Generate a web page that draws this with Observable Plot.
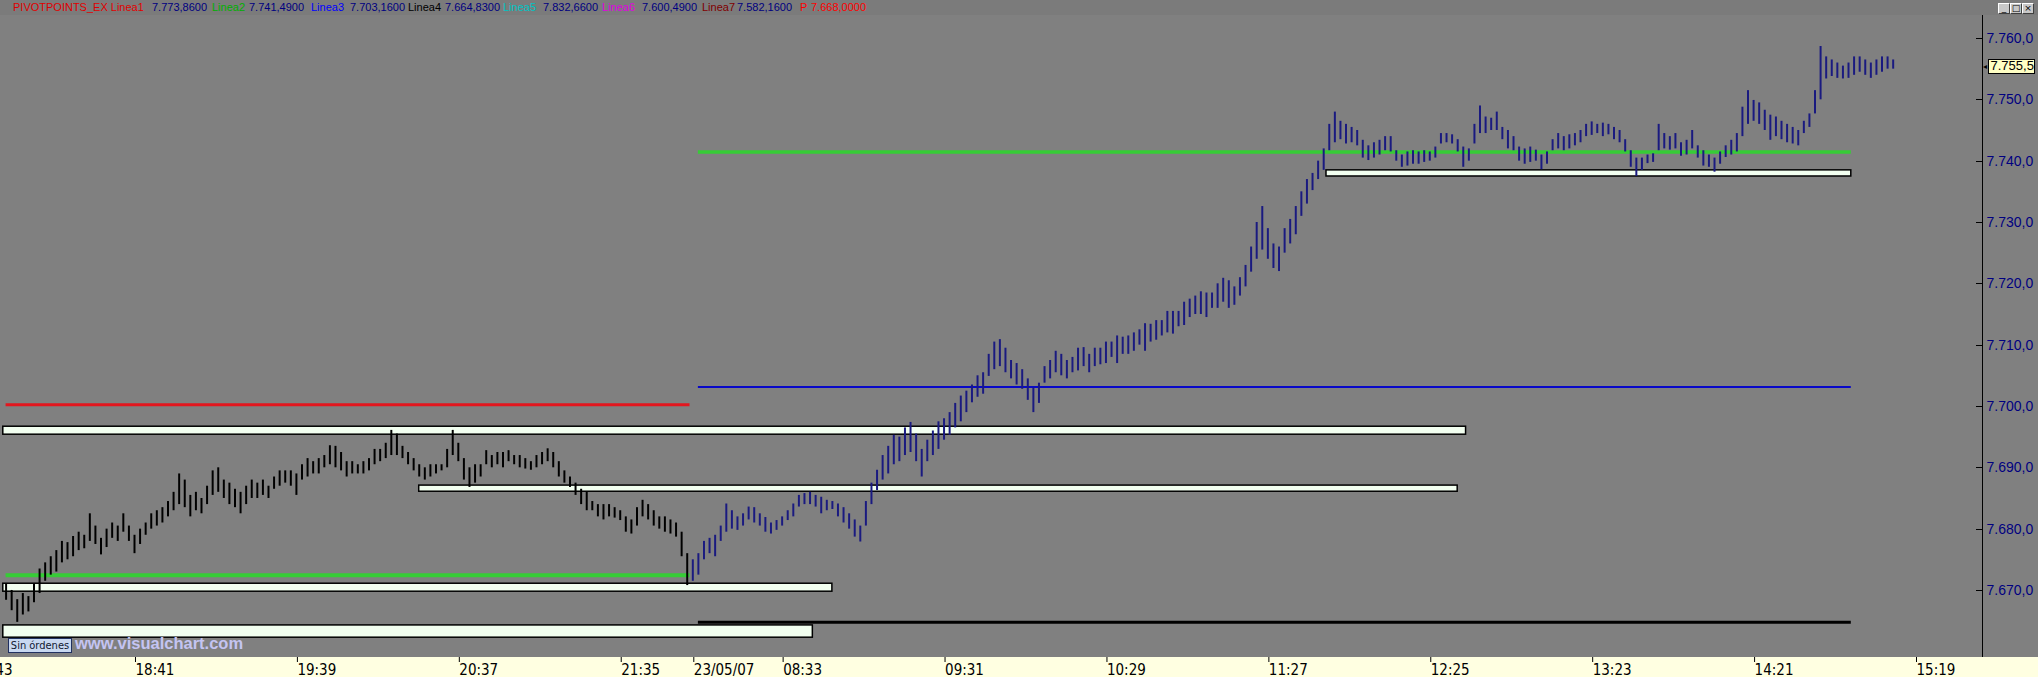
<!DOCTYPE html>
<html><head><meta charset="utf-8">
<script src="https://cdn.jsdelivr.net/npm/d3@7"></script>
<script src="https://cdn.jsdelivr.net/npm/@observablehq/plot@0.6"></script>
<style>
html,body{margin:0;padding:0;background:#808080;width:2038px;height:677px;overflow:hidden;position:relative;font-family:"Liberation Sans",Arial,sans-serif}
#hdr{position:absolute;left:0;top:0;width:2038px;height:15px;background:#7b7b7b;white-space:nowrap}
#hdr span{position:absolute;top:1px;font-size:11px;line-height:13px}
#chart{position:absolute;left:0;top:15px}
.btn{position:absolute;top:3px;width:10px;height:9px;background:#c8c8c8;border:1px solid;border-color:#fff #404040 #404040 #fff;font-size:9px;line-height:9px;text-align:center;color:#000;font-family:"DejaVu Sans",sans-serif}
#sin{position:absolute;left:8px;top:638px;width:62px;height:13px;background:#c8d8f0;border:1px solid #203060;font-family:"Liberation Sans Narrow","DejaVu Sans Condensed",sans-serif;font-size:11px;line-height:13px;text-align:center;color:#101830}
#wm{position:absolute;left:75px;top:634px;font-family:"Liberation Sans",Arial,sans-serif;font-weight:bold;font-size:16.5px;color:#c4c4f2}
</style></head><body>
<div id="hdr"></div>
<div id="chart"></div>
<div class="btn" style="left:1998px">_</div><div class="btn" style="left:2010px">□</div><div class="btn" style="left:2022px">×</div>
<div id="sin">Sin órdenes</div>
<div id="wm">www.visualchart.com</div>
<script>
// ---------------- DATA ----------------
// Header (indicator PIVOTPOINTS_EX values)
const headerNames  = ["PIVOTPOINTS_EX Linea1", "Linea2", "Linea3", "Linea4", "Linea5", "Linea6", "Linea7", "P"];
const headerValues = [7773.86, 7741.49, 7703.16, 7664.83, 7832.66, 7600.49, 7582.16, 7668.00];

// 2-minute bars. Session 1 = 22/05/07 from 17:55, session 2 = 23/05/07 from 08:01
const day1Start = "17:55";
const day1Low = [7668.4,7666.7,7664.8,7666.0,7666.5,7668.0,7669.5,7671.5,7672.5,7673.0,
7674.5,7675.0,7675.5,7676.5,7676.8,7678.0,7677.5,7675.8,7677.0,7678.5,
7678.0,7679.5,7678.0,7676.0,7677.5,7679.0,7680.0,7680.5,7681.0,7682.0,
7683.0,7684.0,7683.5,7682.0,7683.0,7682.5,7684.0,7685.5,7686.0,7685.0,
7684.0,7683.5,7682.5,7684.0,7685.0,7685.0,7685.5,7685.0,7686.5,7687.0,
7687.5,7687.0,7685.5,7688.0,7688.5,7689.0,7689.0,7690.0,7690.5,7690.0,
7689.5,7688.5,7689.0,7689.0,7689.0,7689.5,7690.5,7691.0,7691.5,7692.0,
7692.0,7691.5,7690.5,7689.5,7688.5,7688.0,7688.5,7689.0,7689.5,7690.0,
7692.0,7691.0,7688.0,7686.8,7687.5,7688.5,7690.5,7690.0,7690.5,7690.0,
7691.0,7690.5,7690.0,7689.8,7689.6,7690.0,7690.5,7691.0,7690.0,7688.5,
7687.5,7686.8,7685.5,7684.0,7683.0,7683.0,7682.0,7681.5,7682.0,7681.8,
7681.4,7679.5,7679.2,7680.5,7682.0,7681.5,7680.5,7680.0,7679.5,7679.2,
7678.7,7675.5,7670.8];
const day1High = [7671.1,7670.0,7668.5,7669.5,7669.0,7671.0,7673.5,7674.5,7675.5,7676.5,
7678.0,7677.8,7678.8,7679.5,7679.0,7682.5,7680.5,7678.5,7680.0,7681.0,
7680.5,7682.5,7680.5,7679.0,7680.0,7681.0,7682.5,7683.0,7683.5,7684.5,
7686.0,7689.0,7688.0,7685.5,7686.0,7685.0,7687.0,7689.5,7690.0,7688.0,
7687.5,7686.5,7686.0,7687.0,7688.0,7687.5,7688.0,7687.0,7688.5,7689.5,
7689.5,7689.5,7689.0,7690.5,7691.5,7691.0,7691.5,7692.0,7693.6,7693.5,
7692.5,7691.0,7691.0,7690.5,7691.0,7691.5,7693.0,7693.0,7694.0,7696.1,
7695.5,7693.5,7692.5,7691.5,7690.5,7690.0,7690.5,7690.5,7690.5,7693.0,
7696.1,7694.0,7691.5,7690.0,7690.5,7690.5,7692.8,7692.0,7692.5,7692.5,
7692.8,7692.0,7692.0,7691.5,7691.0,7692.0,7692.5,7693.1,7692.5,7691.0,
7689.5,7688.5,7687.5,7686.5,7686.0,7684.5,7684.0,7684.0,7684.0,7683.5,
7683.0,7682.0,7681.5,7683.5,7684.7,7684.0,7683.0,7682.0,7682.0,7681.5,
7681.0,7679.5,7676.0];
const day2Start = "08:01";
const day2Low = [7671.5,7672.5,7675.0,7676.0,7675.5,7678.0,7679.5,7680.0,7679.8,7680.5,
7681.5,7681.0,7680.5,7679.5,7679.2,7679.8,7680.5,7681.4,7682.0,7683.6,
7684.0,7684.0,7683.6,7682.5,7683.0,7683.2,7682.0,7681.0,7680.0,7678.7,
7677.9,7680.5,7684.0,7686.3,7688.0,7689.0,7690.5,7691.0,7692.0,7692.5,
7691.0,7688.5,7691.0,7692.0,7693.0,7694.5,7695.3,7696.5,7697.5,7699.0,
7700.6,7701.5,7702.0,7704.9,7706.0,7706.5,7705.5,7704.5,7703.5,7702.8,
7701.0,7699.0,7700.5,7703.8,7704.5,7705.5,7705.0,7704.5,7705.5,7705.8,
7706.5,7705.5,7706.5,7706.8,7707.0,7708.0,7707.0,7708.5,7708.5,7709.0,
7710.0,7709.0,7710.5,7710.8,7711.5,7712.0,7711.8,7713.0,7713.2,7714.5,
7715.0,7715.0,7714.5,7716.0,7716.0,7717.0,7716.0,7716.5,7718.0,7719.5,
7721.9,7724.0,7725.5,7724.0,7722.5,7722.0,7725.0,7726.5,7728.0,7731.0,
7733.0,7735.2,7737.0,7738.5,7741.7,7743.0,7743.5,7742.8,7743.0,7742.5,
7740.5,7740.1,7740.5,7741.0,7741.7,7741.5,7740.0,7739.0,7739.2,7739.5,
7739.5,7739.8,7740.0,7740.5,7742.8,7743.0,7742.8,7741.5,7739.0,7740.0,
7742.8,7744.5,7744.5,7745.0,7745.0,7743.5,7742.0,7741.7,7740.0,7739.5,
7739.8,7740.0,7738.6,7739.5,7741.7,7742.0,7741.7,7742.0,7742.5,7743.0,
7744.0,7744.2,7744.5,7744.0,7744.3,7743.5,7743.0,7741.5,7739.0,7737.5,
7738.5,7739.6,7739.8,7741.7,7742.0,7741.8,7742.0,7740.8,7741.0,7742.0,
7740.5,7739.2,7739.0,7738.2,7739.5,7740.6,7741.0,7741.5,7744.0,7746.0,
7746.5,7746.0,7745.0,7743.4,7744.0,7743.5,7743.0,7742.8,7742.5,7744.5,
7745.5,7747.7,7750.0,7753.4,7753.8,7753.5,7753.4,7753.5,7754.0,7754.5,
7754.0,7753.5,7754.0,7754.5,7755.0,7755.0];
const day2High = [7675.0,7676.0,7678.0,7678.5,7679.0,7680.5,7684.1,7683.0,7682.0,7682.5,
7683.6,7683.5,7682.5,7681.9,7681.0,7681.4,7682.0,7683.0,7684.1,7685.5,
7685.8,7686.0,7685.5,7685.2,7684.7,7684.5,7684.1,7683.5,7682.5,7681.5,
7680.5,7684.5,7687.5,7689.6,7692.0,7693.5,7695.3,7695.0,7696.5,7697.4,
7695.5,7693.0,7694.5,7696.0,7697.5,7698.0,7699.0,7700.5,7701.7,7702.5,
7703.5,7705.0,7705.5,7708.5,7710.5,7710.9,7709.5,7707.5,7707.0,7706.0,
7704.5,7703.0,7703.8,7706.5,7707.5,7709.0,7708.5,7707.5,7708.0,7709.5,
7709.6,7708.5,7709.5,7709.5,7710.5,7710.5,7711.5,7711.3,7711.5,7712.0,
7712.5,7713.5,7713.4,7714.0,7714.0,7715.5,7715.5,7715.5,7717.0,7717.5,
7718.0,7718.7,7718.5,7718.5,7720.0,7720.9,7720.5,7719.5,7721.0,7723.0,
7726.0,7730.0,7732.6,7729.0,7726.5,7726.0,7729.0,7730.5,7732.6,7735.0,
7737.0,7738.0,7740.0,7742.0,7746.0,7748.0,7746.5,7746.0,7745.5,7745.0,
7743.4,7742.5,7743.0,7743.4,7744.0,7744.0,7741.7,7741.0,7741.5,7741.7,
7741.5,7741.7,7741.5,7742.3,7744.5,7744.5,7744.3,7743.5,7742.3,7742.0,
7746.0,7749.0,7747.2,7747.0,7748.0,7745.5,7745.0,7744.0,7742.3,7742.0,
7742.3,7741.8,7741.0,7741.5,7743.5,7744.5,7744.0,7744.3,7744.5,7745.0,
7746.0,7746.4,7746.0,7746.2,7746.0,7745.5,7745.0,7743.5,7741.7,7740.5,
7740.5,7741.0,7741.2,7746.0,7744.5,7744.0,7744.5,7743.0,7743.4,7745.0,
7742.5,7741.7,7741.0,7740.5,7741.5,7742.5,7743.4,7744.5,7748.8,7751.5,
7749.9,7749.5,7748.3,7747.5,7747.2,7746.5,7746.0,7745.5,7745.0,7746.5,
7747.7,7751.5,7758.7,7757.0,7756.5,7756.0,7755.5,7756.0,7757.0,7757.0,
7756.5,7756.0,7756.5,7757.0,7757.0,7756.5];
const lastPrice = 7755.5;

// Pivot levels drawn per session
const levelNames = ["R (22/05)", "S (22/05)", "Linea2", "Linea3", "Linea4"];
const levelValues = [7700.3, 7672.5, 7741.49, 7703.16, 7664.83];
const levelFrom = ["1 17:55", "1 17:55", "2 08:03", "2 08:03", "2 08:03"];
const levelTo   = ["1 22:00", "1 22:00", "2 14:56", "2 14:56", "2 14:56"];

// Order bands (white boxes)
const bandFrom = ["1 17:54", "1 20:23", "1 17:54", "1 17:54", "2 11:48"];
const bandTo   = ["2 12:38", "2 12:35", "2 08:51", "2 08:44", "2 14:56"];
const bandLow  = [7695.4, 7686.1, 7669.8, 7662.3, 7737.5];
const bandHigh = [7696.7, 7687.1, 7671.1, 7664.3, 7738.5];

// Axis ticks
const yTicks = [7670, 7680, 7690, 7700, 7710, 7720, 7730, 7740, 7750, 7760];
const xTickTimes  = ["1 17:43","1 18:41","1 19:39","1 20:37","1 21:35","2 08:01","2 08:33","2 09:31","2 10:29","2 11:27","2 12:25","2 13:23","2 14:21","2 15:19"];
const xTickLabels = ["17:43","18:41","19:39","20:37","21:35","23/05/07","08:33","09:31","10:29","11:27","12:25","13:23","14:21","15:19"];

// ---------------- STYLES ----------------
const levelStyle = [
  {stroke: "#e3161e", w: 3}, {stroke: "#36cc36", w: 4},
  {stroke: "#36cc36", w: 3.5}, {stroke: "#0808c8", w: 2}, {stroke: "#000000", w: 3}
];
const headerColors = ["#e00000", "#00b000", "#0000ff", "#000000", "#00c4c4", "#e000e0", "#800000", "#ff0000"];
const headerNameLeft  = [13, 212, 311, 408, 503, 602, 702, 800];
const headerValueLeft = [152, 249, 350, 445, 543, 642, 737, 811];

// ---------------- HELPERS ----------------
const toMin = s => { const [h, m] = s.split(":").map(Number); return h * 60 + m; };
// trading-minute index: 0 at 22/05 18:41; overnight gap removed (22:00 of day 1 == 08:00 of day 2)
const idx = (day, s) => day === 1 ? toMin(s) - toMin("18:41") : toMin(s) - toMin("08:00") + 199;
const idxOf = ds => { const [d, s] = ds.split(" "); return idx(+d, s); };

const loc = d3.formatLocale({decimal: ",", thousands: ".", grouping: [3], currency: ["", ""]});
const fmt1 = loc.format(",.1f"), fmt4 = loc.format(",.4f");

// header
const hdr = document.getElementById("hdr");
headerNames.forEach((n, i) => {
  const a = document.createElement("span"); a.textContent = n; a.style.color = headerColors[i];
  a.style.left = headerNameLeft[i] + "px"; hdr.appendChild(a);
  const b = document.createElement("span"); b.textContent = fmt4(headerValues[i]);
  b.style.color = i === headerNames.length - 1 ? headerColors[i] : "#000080";
  b.style.left = headerValueLeft[i] + "px"; hdr.appendChild(b);
});

// tables
const bars1 = day1Low.map((lo, i) => ({t: idx(1, day1Start) + 2 * i, lo, hi: day1High[i]}));
const bars2 = day2Low.map((lo, i) => ({t: idx(2, day2Start) + 2 * i, lo, hi: day2High[i]}));
const levels = levelNames.map((n, i) => ({n, v: levelValues[i], t1: idxOf(levelFrom[i]), t2: idxOf(levelTo[i]), ...levelStyle[i]}));
const bands = bandLow.map((lo, i) => ({lo, hi: bandHigh[i], t1: idxOf(bandFrom[i]), t2: idxOf(bandTo[i])}));
const xTickIdx = xTickTimes.map(idxOf);
const xLabel = new Map(xTickIdx.map((k, i) => [k, xTickLabels[i]]));

const xDomain = [-48, 662];
const yDomain = [7659.07, 7763.75];

const plot = Plot.plot({
  width: 2038, height: 662,
  marginTop: 0, marginRight: 56, marginBottom: 20, marginLeft: 0,
  x: {domain: xDomain},
  y: {domain: yDomain},
  style: {background: "#808080", fontFamily: "'Liberation Sans', Arial, sans-serif", overflow: "visible"},
  marks: [
    Plot.rect(bands, {x1: "t1", x2: "t2", y1: "lo", y2: "hi", fill: "#f2fff0", stroke: "#000", strokeWidth: 1.5}),
    ...levels.map(l => Plot.ruleY([l], {y: "v", x1: "t1", x2: "t2", stroke: l.stroke, strokeWidth: l.w})),
    Plot.ruleX(bars1, {x: "t", y1: "lo", y2: "hi", stroke: "#000", strokeWidth: 2}),
    Plot.ruleX(bars2, {x: "t", y1: "lo", y2: "hi", stroke: "#1a1a80", strokeWidth: 2}),
    Plot.ruleX([xDomain[1]], {stroke: "#000"}),
    Plot.axisX(xTickIdx, {tickFormat: k => xLabel.get(k), tickSize: 5, tickPadding: 2, textAnchor: "start", dx: 1,
      fontSize: 15, fontFamily: "'Liberation Sans Narrow','DejaVu Sans Condensed',sans-serif", label: null}),
    Plot.axisY(yTicks, {anchor: "right", tickFormat: fmt1, tickSize: 0, tickPadding: 4, fontSize: 14, fill: "#000080", label: null})
  ]
});
document.getElementById("chart").appendChild(plot);

// decorations through the plot's scales
const svg = d3.select(plot);
const ys = plot.scale("y"), xs = plot.scale("x");
const xr = xs.range[1];
svg.insert("rect", ":first-child").attr("x", 0).attr("y", 642).attr("width", 2038).attr("height", 20).attr("fill", "#ffffe1");
yTicks.forEach(v => {
  const y = Math.round(ys.apply(v)) + 0.5;
  svg.append("line").attr("x1", xr - 6).attr("x2", xr).attr("y1", y).attr("y2", y).attr("stroke", "#000");
});
const py = ys.apply(lastPrice);
const g = svg.append("g").attr("text-anchor", "start").attr("font-family", "'Liberation Sans', Arial, sans-serif");
g.append("text").attr("x", xr + 1).attr("y", py + 3).attr("font-size", 8).attr("fill", "#000").text("◂");
g.append("rect").attr("x", xr + 6.5).attr("y", Math.round(py - 7) + 0.5).attr("width", 46).attr("height", 14)
  .attr("fill", "#ffffc4").attr("stroke", "#000");
g.append("text").attr("x", xr + 8.5).attr("y", py + 4.5).attr("font-size", 13).attr("fill", "#000").text(fmt1(lastPrice));
</script>
</body></html>
